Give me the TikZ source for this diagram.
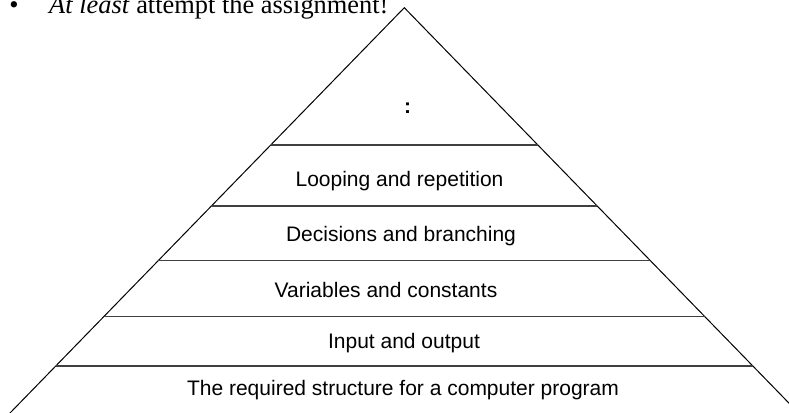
\documentclass[tikz,border=0pt]{standalone}
\usepackage{fontspec}
\setmainfont{Liberation Sans}
\newfontfamily\serifface{Liberation Serif}
\usetikzlibrary{calc}
\tikzset{
  edge/.style={draw=black, line width=1pt},
  layer/.style={draw=black!75, line width=1.1pt},
  label/.style={anchor=base, inner sep=0pt, font=\fontsize{21}{25}\selectfont},
  toptext/.style={inner sep=0pt, font=\serifface\fontsize{26.4}{30}\selectfont}
}
\begin{document}
\begin{tikzpicture}[x=1pt, y=-1pt]
\useasboundingbox (0,0) rectangle (789,412);
\clip (0,0) rectangle (789,412);
% triangle
\coordinate (apex) at (404.3,7.7);
\coordinate (bl) at (11,412);
\coordinate (br) at (797.6,412);
\coordinate (blx) at ($(apex)!1.03!(bl)$);
\coordinate (brx) at ($(apex)!1.03!(br)$);
\draw[edge, line join=miter] (blx) -- (apex) -- (brx);
% layer lines
\foreach \t/\n in {0.3396/a, 0.4905/b, 0.6258/c, 0.7638/d, 0.8862/e}{
  \coordinate (l\n) at ($(apex)!\t!(bl)$);
  \coordinate (r\n) at ($(apex)!\t!(br)$);
  \draw[layer] (l\n) -- (r\n);
}
% labels
\node[label, font=\bfseries\fontsize{21}{25}\selectfont] (colon) at (407.5,113) {:};
\node[label] (loop) at (399.5,186.7) {Looping and repetition};
\node[label] (dec) at (401,241) {Decisions and branching};
\node[label] (var) at (386,297.7) {Variables and constants};
\node[label] (io) at (404,348.3) {Input and output};
\node[label] (req) at (403,395) {The required structure for a computer program};
% top text
\node[toptext, anchor=base] (bullet) at (14,13.3) {•};
\node[toptext, anchor=base west] (assign) at (49,13.3) {\textit{At least} attempt the assignment!};
\end{tikzpicture}
\end{document}
